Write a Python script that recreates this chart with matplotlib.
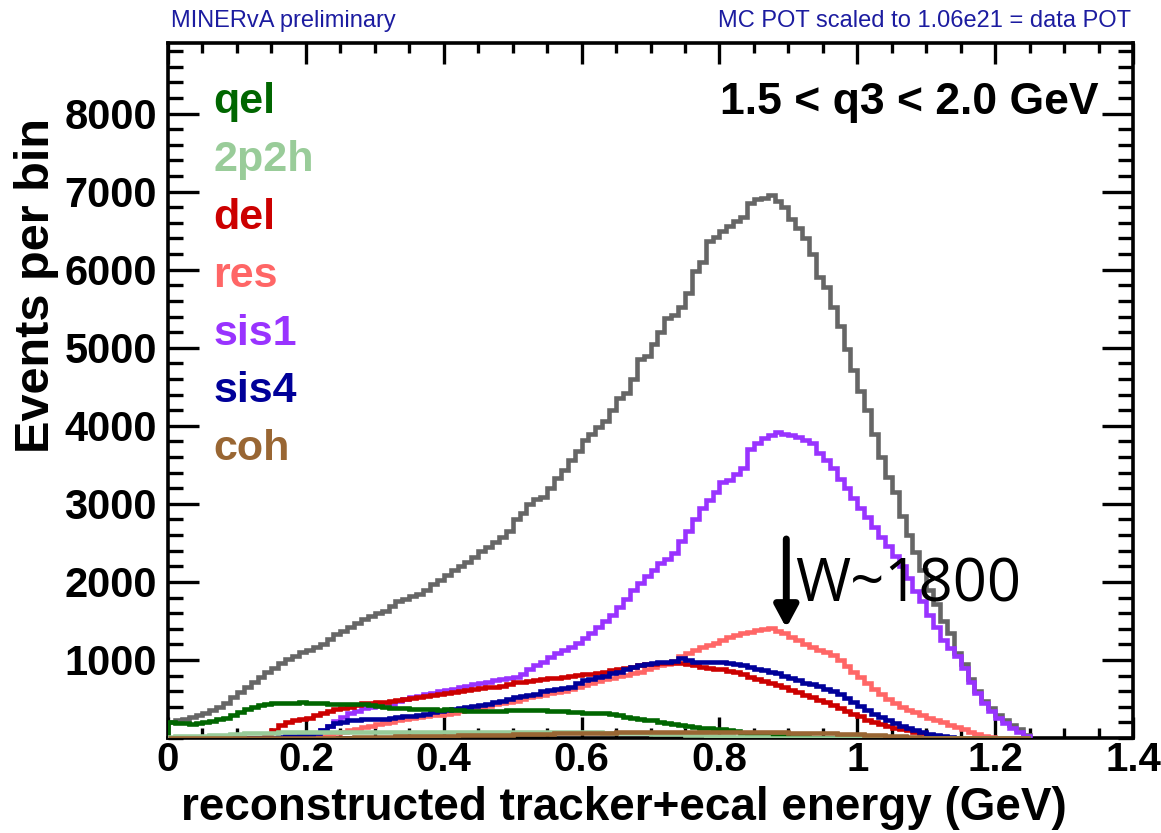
import matplotlib
matplotlib.use('Agg')

import numpy as np
import matplotlib.pyplot as plt
from matplotlib.ticker import MultipleLocator, FixedLocator

# bins of 0.01 GeV from 0 to 1.25
bin_width = 0.01

total = [210, 230, 250, 270, 290, 320, 360, 400, 450, 520,
         590, 650, 720, 780, 850, 900, 960, 1010, 1050, 1100,
         1130, 1160, 1210, 1270, 1330, 1370, 1420, 1470, 1520, 1560,
         1600, 1630, 1690, 1750, 1780, 1820, 1850, 1900, 1970, 2030,
         2090, 2150, 2200, 2260, 2320, 2390, 2450, 2510, 2570, 2650,
         2800, 2880, 3000, 3060, 3090, 3200, 3330, 3430, 3560, 3680,
         3820, 3900, 3980, 4060, 4200, 4350, 4420, 4600, 4860, 4900,
         5050, 5200, 5380, 5420, 5520, 5700, 5980, 6100, 6370, 6420,
         6500, 6560, 6620, 6680, 6850, 6900, 6920, 6960, 6880, 6800,
         6650, 6530, 6400, 6200, 5900, 5780, 5520, 5280, 4980, 4720,
         4450, 4200, 3900, 3600, 3350, 3150, 2850, 2600, 2380, 2150,
         1900, 1720, 1500, 1350, 1090, 950, 760, 600, 470, 380,
         300, 230, 170, 110, 40]

qel = [200, 190, 190, 185, 190, 200, 220, 240, 260, 290,
       330, 370, 400, 420, 440, 450, 455, 450, 455, 460,
       455, 450, 445, 440, 440, 440, 438, 435, 430, 420,
       410, 400, 390, 385, 380, 375, 370, 370, 368, 365,
       370, 365, 360, 350, 345, 340, 340, 345, 350, 355,
       355, 355, 360, 360, 355, 350, 345, 340, 335, 330,
       325, 320, 320, 315, 305, 290, 275, 255, 245, 235,
       225, 210, 195, 180, 165, 150, 140, 135, 130, 120,
       110, 100, 85, 70, 55, 45, 35, 30, 25, 20,
       15, 10, 10, 5, 5, 0, 0, 0, 0, 0,
       0, 0, 0, 0, 0, 0, 0, 0, 0, 0,
       0, 0, 0, 0, 0, 0, 0, 0, 0, 0,
       0, 0, 0, 0, 0]

mp2h = [15, 20, 20, 25, 25, 30, 35, 40, 45, 50,
        55, 60, 65, 65, 70, 70, 75, 75, 80, 80,
        80, 80, 82, 80, 78, 80, 82, 80, 80, 82,
        80, 78, 80, 80, 82, 80, 80, 78, 80, 80,
        80, 82, 80, 80, 78, 80, 80, 80, 82, 80,
        80, 78, 80, 80, 78, 78, 76, 76, 75, 75,
        74, 72, 72, 70, 70, 68, 66, 64, 62, 60,
        58, 55, 52, 50, 46, 42, 40, 36, 32, 28,
        25, 22, 18, 15, 12, 10, 8, 5, 3, 0,
        0, 0, 0, 0, 0, 0, 0, 0, 0, 0,
        0, 0, 0, 0, 0, 0, 0, 0, 0, 0,
        0, 0, 0, 0, 0, 0, 0, 0, 0, 0,
        0, 0, 0, 0, 0]

delta = [0, 0, 0, 0, 0, 0, 0, 0, 0, 0,
         0, 0, 0, 0, 40, 100, 170, 210, 230, 240,
         260, 290, 320, 350, 370, 390, 400, 420, 445, 455,
         460, 460, 470, 485, 495, 510, 530, 540, 550, 560,
         575, 590, 605, 615, 625, 640, 650, 655, 665, 690,
         715, 720, 730, 745, 760, 770, 775, 780, 795, 805,
         815, 825, 835, 850, 870, 880, 895, 910, 930, 945,
         950, 955, 960, 962, 958, 950, 930, 910, 900, 890,
         880, 865, 845, 820, 780, 760, 735, 710, 680, 650,
         620, 590, 550, 520, 490, 460, 420, 390, 350, 310,
         280, 230, 200, 175, 150, 135, 120, 100, 80, 60,
         40, 20, 10, 0, 0, 0, 0, 0, 0, 0,
         0, 0, 0, 0, 0]

res = [0, 0, 0, 0, 0, 0, 0, 0, 0, 0,
       0, 0, 0, 0, 0, 0, 0, 0, 0, 0,
       10, 20, 30, 40, 60, 80, 100, 120, 140, 160,
       180, 195, 210, 225, 240, 255, 265, 280, 290, 300,
       310, 325, 340, 355, 370, 390, 410, 430, 445, 460,
       480, 500, 520, 535, 555, 575, 590, 605, 625, 650,
       680, 710, 735, 755, 770, 790, 810, 830, 850, 880,
       910, 930, 950, 990, 1050, 1090, 1130, 1160, 1190, 1220,
       1260, 1300, 1320, 1340, 1360, 1380, 1400, 1410, 1370, 1340,
       1300, 1260, 1210, 1160, 1130, 1100, 1060, 1000, 920, 850,
       780, 700, 630, 560, 500, 450, 400, 360, 330, 300,
       260, 230, 200, 170, 140, 110, 80, 55, 30, 15,
       5, 0, 0, 0, 0]

sis1 = [0, 0, 0, 0, 0, 0, 0, 0, 0, 0,
        0, 0, 0, 0, 0, 0, 0, 0, 0, 0,
        30, 60, 100, 150, 220, 270, 320, 350, 380, 400,
        410, 420, 440, 470, 500, 520, 540, 560, 580, 600,
        615, 630, 650, 670, 690, 700, 720, 740, 750, 770,
        780, 820, 890, 930, 980, 1040, 1090, 1130, 1170, 1220,
        1280, 1350, 1420, 1500, 1570, 1680, 1780, 1900, 1980, 2070,
        2150, 2240, 2300, 2370, 2520, 2650, 2800, 2950, 3050, 3150,
        3280, 3300, 3380, 3460, 3700, 3780, 3850, 3880, 3920, 3900,
        3880, 3860, 3820, 3780, 3650, 3560, 3460, 3320, 3200, 3080,
        2950, 2830, 2700, 2580, 2460, 2330, 2200, 2050, 1880, 1750,
        1580, 1420, 1250, 1150, 1050, 900, 720, 580, 450, 340,
        260, 190, 130, 80, 30]

sis4 = [0, 0, 0, 0, 0, 0, 0, 0, 0, 0,
        0, 0, 0, 0, 0, 0, 10, 20, 30, 40,
        50, 60, 100, 150, 190, 210, 230, 235, 240, 245,
        250, 250, 260, 270, 280, 285, 295, 310, 330, 345,
        360, 375, 390, 400, 410, 420, 440, 460, 480, 500,
        530, 540, 550, 570, 600, 615, 630, 640, 655, 700,
        740, 755, 780, 800, 830, 850, 880, 910, 930, 950,
        960, 970, 975, 990, 1020, 1000, 980, 975, 975, 975,
        970, 960, 950, 930, 910, 890, 870, 850, 830, 800,
        770, 740, 710, 690, 670, 630, 600, 560, 510, 460,
        410, 360, 310, 270, 230, 190, 160, 130, 105, 80,
        55, 35, 20, 10, 0, 0, 0, 0, 0, 0,
        0, 0, 0, 0, 0]

coh = [0, 0, 0, 0, 0, 0, 0, 0, 0, 0,
       0, 0, 0, 0, 0, 0, 0, 0, 0, 0,
       0, 0, 0, 0, 0, 5, 5, 10, 10, 10,
       15, 15, 15, 20, 20, 20, 25, 25, 25, 30,
       30, 30, 35, 35, 35, 40, 40, 40, 45, 45,
       50, 50, 50, 55, 55, 55, 60, 60, 60, 65,
       65, 65, 70, 70, 70, 72, 72, 75, 75, 75,
       78, 78, 80, 80, 80, 80, 82, 82, 82, 80,
       80, 80, 80, 78, 78, 78, 76, 75, 75, 72,
       70, 70, 68, 66, 65, 62, 60, 58, 55, 52,
       50, 45, 40, 35, 30, 25, 20, 15, 10, 5,
       0, 0, 0, 0, 0, 0, 0, 0, 0, 0,
       0, 0, 0, 0, 0]

labels = ['qel', '2p2h', 'del', 'res', 'sis1', 'sis4', 'coh']
colors = ['#006600', '#99cc99', '#cc0000', '#ff6666', '#9933ff', '#000099', '#996633']
series = [qel, mp2h, delta, res, sis1, sis4, coh]
draw_order = [3, 4, 2, 5, 0, 1, 6]  # res, sis1, del, sis4, qel, 2p2h, coh

xticks = [0, 0.2, 0.4, 0.6, 0.8, 1.0, 1.2, 1.4]
xticklabels = ['0', '0.2', '0.4', '0.6', '0.8', '1', '1.2', '1.4']
yticks = [1000, 2000, 3000, 4000, 5000, 6000, 7000, 8000]

edges = np.arange(len(total) + 1) * bin_width

bold = ['Liberation Sans', 'DejaVu Sans']
narrow = ['Liberation Sans Narrow', 'Liberation Sans', 'DejaVu Sans']

fig = plt.figure(figsize=(11.61, 8.33), dpi=100)
ax = fig.add_axes([0.1447, 0.114, 0.9759 - 0.1447, 0.948 - 0.114])

ax.stairs(total, edges, color='#666666', lw=3.3, zorder=2)
for k, i in enumerate(draw_order):
    ax.stairs(series[i], edges, color=colors[i], lw=3.3, zorder=3 + k)

ax.set_xlim(0, 1.4)
ax.set_ylim(0, 8900)

ax.xaxis.set_major_locator(FixedLocator(xticks))
ax.xaxis.set_minor_locator(MultipleLocator(0.05))
ax.yaxis.set_major_locator(FixedLocator(yticks))
ax.yaxis.set_minor_locator(MultipleLocator(200))
ax.set_xticklabels(xticklabels)

ax.tick_params(axis='both', which='both', direction='in', top=True, right=True, width=2.4)
ax.tick_params(axis='x', which='major', length=15, pad=2)
ax.tick_params(axis='x', which='minor', length=7.5)
ax.tick_params(axis='y', which='major', length=22, pad=8)
ax.tick_params(axis='y', which='minor', length=11)
for lab in ax.get_xticklabels() + ax.get_yticklabels():
    lab.set_family(bold)
    lab.set_fontweight('bold')
    lab.set_fontsize(30)
for lab in ax.get_xticklabels():
    lab.set_fontsize(29)
for s in ax.spines.values():
    s.set_linewidth(2.6)

ax.set_xlabel('reconstructed tracker+ecal energy (GeV)', fontsize=33, fontweight='bold',
              family=bold)
ax.xaxis.set_label_coords(0.472, -0.0685)
ax.set_ylabel('Events per bin', fontsize=35, fontweight='bold', family=bold)
ax.yaxis.set_label_coords(-0.113, 0.652)

# legend as coloured text
for j, (lab, c) in enumerate(zip(labels, colors)):
    ax.text(0.047, 0.915 - j * 0.0832, lab, color=c, fontsize=31, fontweight='bold',
            family=bold, transform=ax.transAxes, va='center', ha='left')

ax.text(0.964, 0.915, '1.5 < q3 < 2.0 GeV', fontsize=32, fontweight='bold', family=bold,
        transform=ax.transAxes, ha='right', va='center')

fig.text(0.147, 0.975, 'MINERvA preliminary', color='#1c1ca0', fontsize=17, family=narrow,
         ha='left', va='center')
fig.text(0.974, 0.975, 'MC POT scaled to 1.06e21 = data POT', color='#1c1ca0', fontsize=17,
         family=narrow, ha='right', va='center')

# W~1800 marker
ax.annotate('', xy=(0.897, 1410), xytext=(0.897, 2550),
            arrowprops=dict(arrowstyle='-|>,head_width=0.7,head_length=1.3', color='black',
                            lw=5, shrinkA=0, shrinkB=0), zorder=20)
ax.text(0.91, 1960, 'W~1800', fontsize=43, family=['Open Sans', 'DejaVu Sans'],
        ha='left', va='center', zorder=20)

fig.savefig('out.png', dpi=100)
